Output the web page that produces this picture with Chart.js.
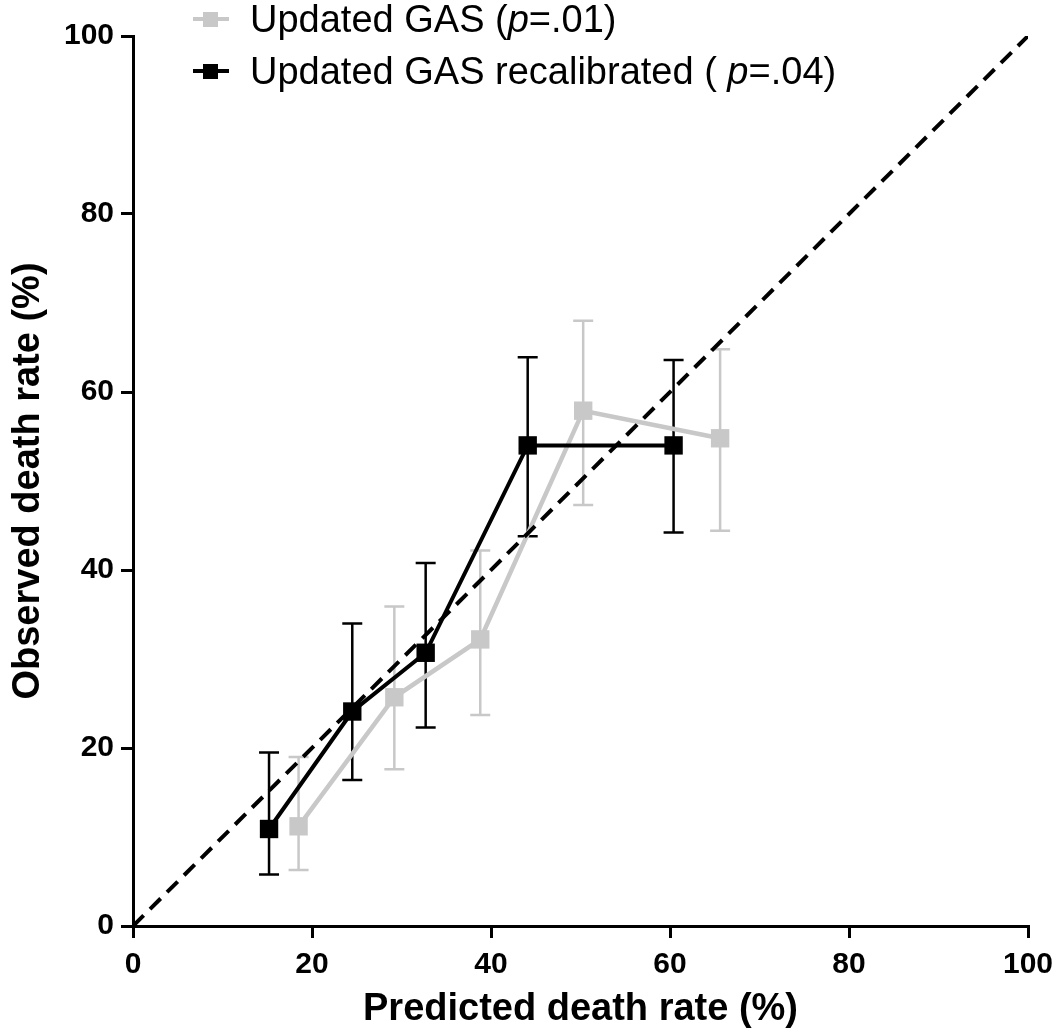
<!DOCTYPE html>
<html>
<head>
<meta charset="utf-8">
<script src="https://cdn.jsdelivr.net/npm/chart.js@4"></script>
<style>
    html, body { margin: 0; padding: 0; background: #fff; }
    #wrap { position: relative; width: 1058px; height: 1034px; }
    #legend { position: absolute; left: 193px; top: -4px; font-family: "Liberation Sans", Arial, sans-serif; font-size: 38px; color: #000; }
    .item { display: flex; align-items: center; height: 46px; margin-bottom: 6px; }
    .mark { position: relative; width: 36px; height: 20px; margin-right: 21px; }
    .mark .ln { position: absolute; left: 0; right: 0; top: 8px; height: 4px; }
    .mark .sq { position: absolute; left: 10px; top: 3px; width: 15px; height: 15px; }
</style>
</head>
<body>
<div id="wrap">
    <canvas id="myChart" width="1058" height="1034"></canvas>
    <div id="legend">
        <div class="item"><span class="mark"><span class="ln" style="background:#c8c8c8"></span><span class="sq" style="background:#c8c8c8"></span></span><span>Updated GAS (<i>p</i>=.01)</span></div>
        <div class="item"><span class="mark"><span class="ln" style="background:#000"></span><span class="sq" style="background:#000"></span></span><span>Updated GAS recalibrated ( <i>p</i>=.04)</span></div>
    </div>
</div>
<script>
// gray series: Updated GAS
let updatedX = [18.5, 29.2, 38.8, 50.3, 65.6];
let updatedY = [11.2, 25.7, 32.2, 57.9, 54.8];
let updatedLow = [6.3, 17.6, 23.7, 47.3, 44.4];
let updatedHigh = [19.0, 35.9, 42.2, 68.0, 64.8];

// black series: Updated GAS recalibrated
let recalX = [15.2, 24.5, 32.7, 44.1, 60.4];
let recalY = [10.9, 24.1, 30.7, 54.0, 54.0];
let recalLow = [5.8, 16.4, 22.3, 43.8, 44.2];
let recalHigh = [19.5, 34.0, 40.8, 63.9, 63.6];

let identityX = [0, 100];
let identityY = [0, 100];

const fontFamily = '"Liberation Sans", Arial, sans-serif';

function toPoints(xs, ys) {
    let pts = [];
    for (let i = 0; i < xs.length; i++) {
        pts.push({x: xs[i], y: ys[i]});
    }
    return pts;
}

// error bars, drawn under the lines
const errorBars = {
    id: 'errorBars',
    beforeDatasetsDraw(chart) {
        const ctx = chart.ctx;
        const xs = chart.scales.x;
        const ys = chart.scales.y;
        const sets = [
            {x: updatedX, lo: updatedLow, hi: updatedHigh, color: '#c8c8c8'},
            {x: recalX, lo: recalLow, hi: recalHigh, color: '#000'}
        ];
        ctx.save();
        ctx.lineWidth = 2.5;
        sets.forEach(s => {
            ctx.strokeStyle = s.color;
            for (let i = 0; i < s.x.length; i++) {
                let px = xs.getPixelForValue(s.x[i]);
                let top = ys.getPixelForValue(s.hi[i]);
                let bot = ys.getPixelForValue(s.lo[i]);
                ctx.beginPath();
                ctx.moveTo(px, top);
                ctx.lineTo(px, bot);
                ctx.moveTo(px - 10, top);
                ctx.lineTo(px + 10, top);
                ctx.moveTo(px - 10, bot);
                ctx.lineTo(px + 10, bot);
                ctx.stroke();
            }
        });
        ctx.restore();
    }
};

const ctx = document.getElementById('myChart').getContext('2d');

const myChart = new Chart(ctx, {
    type: 'line',
    data: {
        datasets: [{
            data: toPoints(identityX, identityY),
            borderColor: '#000',
            borderWidth: 4,
            borderDash: [15, 9],
            pointRadius: 0
        }, {
            data: toPoints(recalX, recalY),
            borderColor: '#000',
            backgroundColor: '#000',
            borderWidth: 4,
            pointStyle: 'rect',
            pointRadius: 13,
            pointBorderWidth: 0
        }, {
            data: toPoints(updatedX, updatedY),
            borderColor: '#c8c8c8',
            backgroundColor: '#c8c8c8',
            borderWidth: 4.5,
            pointStyle: 'rect',
            pointRadius: 13,
            pointBorderWidth: 0
        }]
    },
    options: {
        responsive: false,
        animation: false,
        layout: {
            padding: {top: 36, right: 30, left: 0, bottom: 0}
        },
        plugins: {
            legend: {display: false},
            tooltip: {enabled: false}
        },
        scales: {
            x: {
                type: 'linear',
                min: 0,
                max: 100,
                afterFit: function (scale) { scale.height = 108; scale.paddingRight = 0; },
                border: {display: true, color: '#000', width: 3},
                grid: {drawOnChartArea: false, drawTicks: true, tickLength: 12, color: '#000', lineWidth: 3},
                ticks: {stepSize: 20, color: '#000', padding: 9, font: {family: fontFamily, size: 30, weight: 'bold'}},
                title: {
                    display: true,
                    text: 'Predicted death rate (%)',
                    color: '#000',
                    font: {family: fontFamily, size: 38, weight: 'bold'},
                    padding: {top: 0, bottom: 2}
                }
            },
            y: {
                type: 'linear',
                min: 0,
                max: 100,
                afterFit: function (scale) { scale.width = 133; scale.paddingTop = 0; scale.paddingBottom = 0; },
                border: {display: true, color: '#000', width: 3},
                grid: {drawOnChartArea: false, drawTicks: true, tickLength: 12, color: '#000', lineWidth: 3},
                ticks: {stepSize: 20, color: '#000', padding: 7, font: {family: fontFamily, size: 30, weight: 'bold'}},
                title: {
                    display: true,
                    text: 'Observed death rate (%)',
                    color: '#000',
                    font: {family: fontFamily, size: 38, weight: 'bold'},
                    padding: {top: 6, bottom: 0}
                }
            }
        }
    },
    plugins: [errorBars]
});
</script>
</body>
</html>
